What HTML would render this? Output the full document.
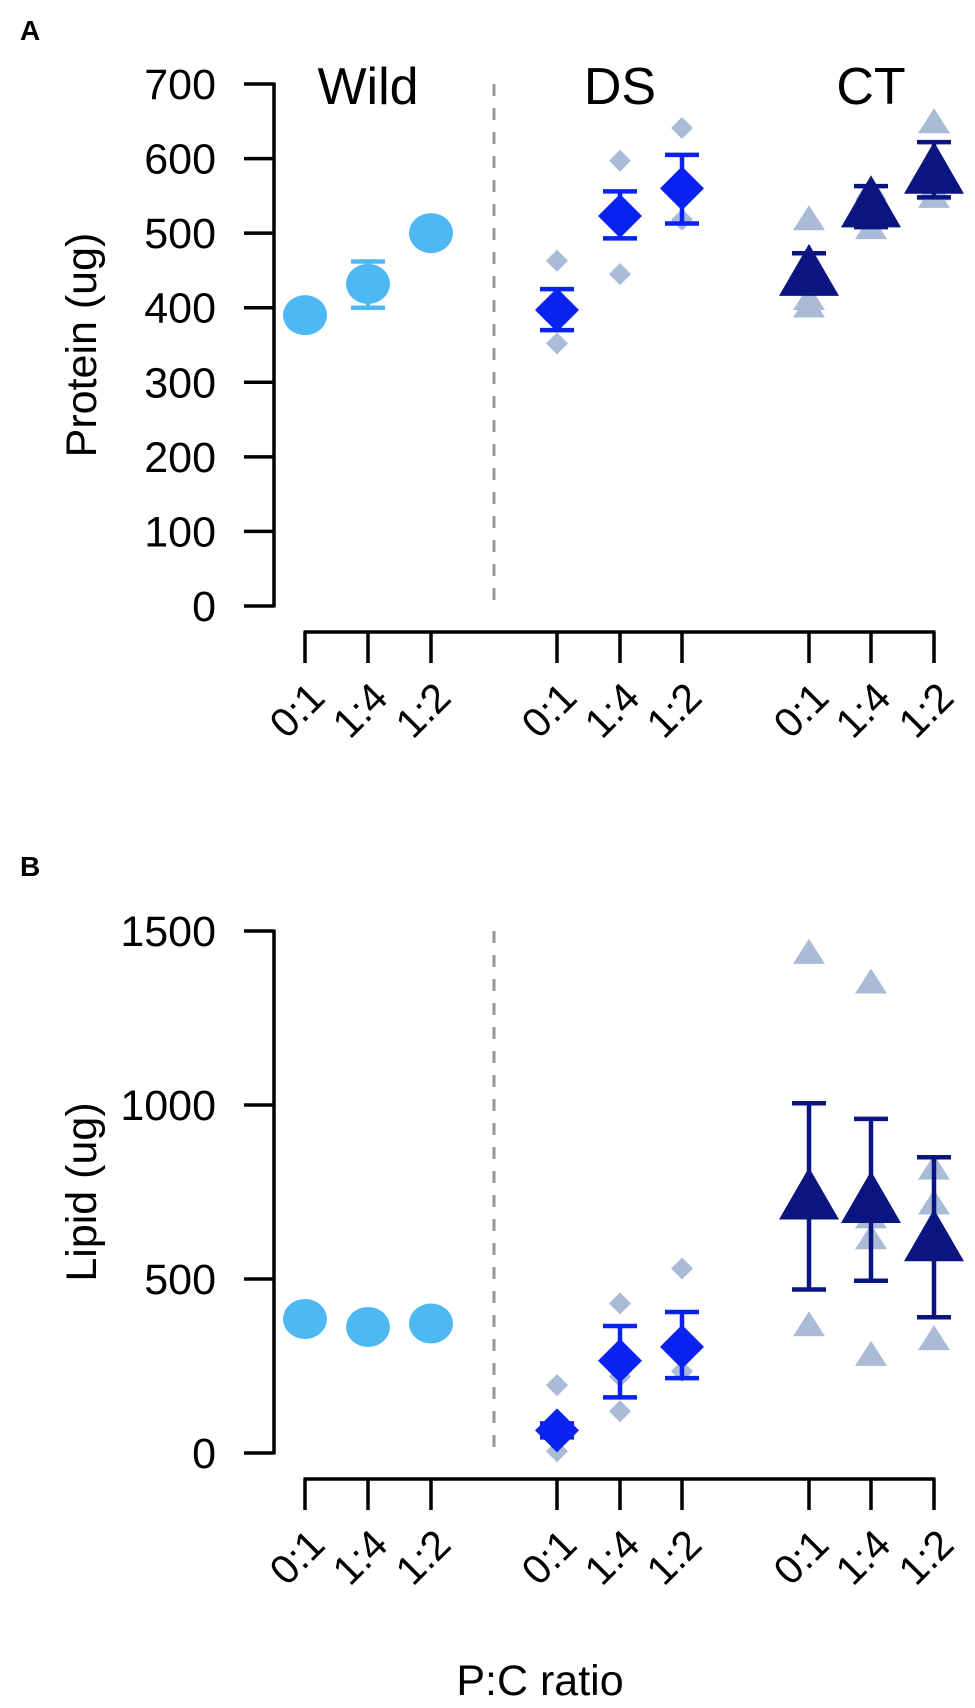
<!DOCTYPE html>
<html><head><meta charset="utf-8"><style>
html,body{margin:0;padding:0;background:#fff;}
svg{display:block;font-family:"Liberation Sans",sans-serif;}
</style></head><body>
<svg id="chart" width="975" height="1708" viewBox="0 0 975 1708" xmlns="http://www.w3.org/2000/svg"></svg>
<script>
const groups = ["Wild","DS","CT"];
const ratios = ["0:1","1:4","1:2"];
// Panel A protein
const protMean = [390,432,500, 397,523,560, 448,540,585];
const protLo   = [390,400,500, 370,493,513, 420,508,548];
const protHi   = [390,462,500, 425,556,605, 473,563,622];
const protRaw  = [[],[],[], [463,352],[597,445],[641,518], [520,413,403],[560,508],[650,560,550]];
const protTicks = [0,100,200,300,400,500,600,700];
// Panel B lipid
const lipMean = [385,362,372, 65,265,305, 740,730,620];
const lipLo   = [385,362,372, 45,160,215, 470,495,390];
const lipHi   = [385,362,372, 85,365,405, 1005,960,850];
const lipRaw  = [[],[],[], [195,5],[430,120,220],[530,235], [1440,370],[1355,285,620,680],[820,720,330]];
const lipTicks = [0,500,1000,1500];

const NS="http://www.w3.org/2000/svg";
const svg=document.getElementById('chart');
function mk(tag,attrs,parent){const e=document.createElementNS(NS,tag);for(const k in attrs)e.setAttribute(k,attrs[k]);(parent||svg).appendChild(e);return e;}
const xPos=[305,368,431,557,620,682,809,871,934];
const colors=["#4DB8F2","#0A22F0","#0A1580"];
const rawCol="#A9BBD6";
const AX=274;

function panel(p){
  const g=mk('g',{});
  
  
  const y=v=>p.y0-(v-0)/(p.max)*(p.y0-p.yTop);
  const ya=mk('line',{x1:AX,x2:AX,y1:y(0)+1.5,y2:y(p.max)-1.5,stroke:'#000','stroke-width':3.5},g);
  
  p.ticks.forEach(t=>{
    mk('line',{x1:AX-30,x2:AX,y1:y(t),y2:y(t),stroke:'#000','stroke-width':3.5},g);
    const tx=mk('text',{x:AX-58,y:y(t)+15,'text-anchor':'end','font-size':43},g);
    tx.textContent=t;
    
  });
  const yt=mk('text',{x:0,y:0,'text-anchor':'middle','font-size':43,transform:`translate(96,${(y(0)+y(p.max))/2}) rotate(-90)`},g);
  yt.textContent=p.ylabel;
  
  const xa=mk('line',{x1:xPos[0]-1.5,x2:xPos[8]+1.5,y1:p.xAxis,y2:p.xAxis,stroke:'#000','stroke-width':3.5},g);
  
  xPos.forEach((x,i)=>{
    mk('line',{x1:x,x2:x,y1:p.xAxis,y2:p.xAxis+31,stroke:'#000','stroke-width':3.5},g);
    const tx=mk('text',{x:0,y:0,'text-anchor':'end','font-size':41,transform:`translate(${x+22},${p.xAxis+68}) rotate(-45)`},g);
    tx.textContent=ratios[i%3];
    
  });
  const dl=mk('line',{x1:494,x2:494,y1:y(p.max),y2:y(0),stroke:'#999','stroke-width':3,'stroke-dasharray':'12,12'},g);
  
  const pl=mk('text',{x:20,y:p.letterY,'font-size':28,'font-weight':'bold'},g);
  pl.textContent=p.letter;
  
  if(p.groupLabels){groups.forEach((gn,k)=>{
    const t=mk('text',{x:xPos[k*3+1],y:104,'text-anchor':'middle','font-size':52},g);
    t.textContent=gn;
    
  });}
  p.raw.forEach((arr,i)=>{const gi=Math.floor(i/3),x=xPos[i];arr.forEach(v=>{
    let m;const cy=y(v);
    if(gi===1)m=mk('polygon',{points:`${x},${cy-11} ${x+11},${cy} ${x},${cy+11} ${x-11},${cy}`,fill:rawCol},g);
    else m=mk('polygon',{points:`${x},${cy-13} ${x+16},${cy+12} ${x-16},${cy+12}`,fill:rawCol},g);
    
  });});
  p.mean.forEach((v,i)=>{
    const gi=Math.floor(i/3),x=xPos[i],c=colors[gi];
    if(p.hi[i]!==p.lo[i]){
      const e=mk('g',{},g);
      
      mk('line',{x1:x,x2:x,y1:y(p.lo[i]),y2:y(p.hi[i]),stroke:c,'stroke-width':4.5},e);
      mk('line',{x1:x-17,x2:x+17,y1:y(p.lo[i]),y2:y(p.lo[i]),stroke:c,'stroke-width':4.5},e);
      mk('line',{x1:x-17,x2:x+17,y1:y(p.hi[i]),y2:y(p.hi[i]),stroke:c,'stroke-width':4.5},e);
    }
    const cy=y(v);let m;
    if(gi===0)m=mk('ellipse',{cx:x,cy:cy,rx:22,ry:20,fill:c},g);
    else if(gi===1)m=mk('polygon',{points:`${x},${cy-22} ${x+22},${cy} ${x},${cy+22} ${x-22},${cy}`,fill:c},g);
    else m=mk('polygon',{points:`${x},${cy-28} ${x+30},${cy+24} ${x-30},${cy+24}`,fill:c},g);
    
  });
}
panel({name:'panel-a-protein',letter:'A',letterY:40,y0:606,yTop:84,max:700,ticks:protTicks,ylabel:'Protein (ug)',xAxis:632,mean:protMean,lo:protLo,hi:protHi,raw:protRaw,groupLabels:true});
panel({name:'panel-b-lipid',letter:'B',letterY:876,y0:1453,yTop:931,max:1500,ticks:lipTicks,ylabel:'Lipid (ug)',xAxis:1479,mean:lipMean,lo:lipLo,hi:lipHi,raw:lipRaw,groupLabels:false});
const xt=mk('text',{x:540,y:1695,'text-anchor':'middle','font-size':43});
xt.textContent='P:C ratio';


</script>
</body></html>
